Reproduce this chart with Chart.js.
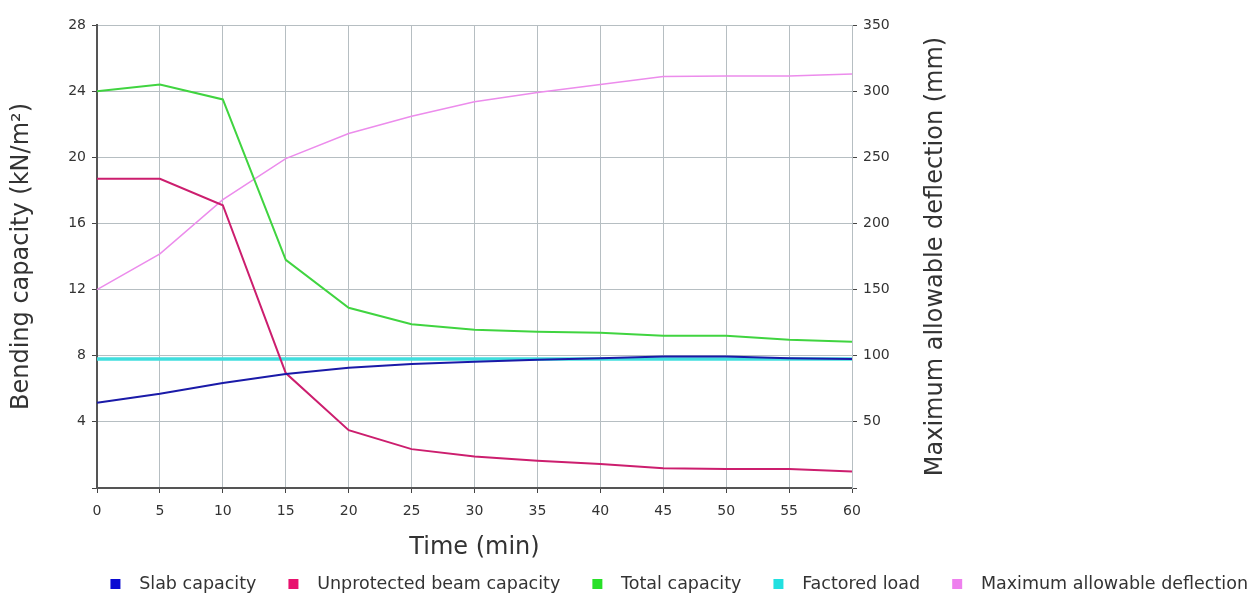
<!DOCTYPE html>
<html>
<head>
<meta charset="utf-8">
<script src="https://cdn.jsdelivr.net/npm/chart.js@4"></script>
<style>
  html, body { margin: 0; padding: 0; background: #fff; }
</style>
</head>
<body>
<canvas id="chart" width="1252" height="599"></canvas>
<script>
/* ── data ────────────────────────────────────────────────────── */
const times      = ['0', '5', '10', '15', '20', '25', '30', '35', '40', '45', '50', '55', '60'];
const slab       = [5.15, 5.7, 6.35, 6.9, 7.27, 7.5, 7.64, 7.75, 7.85, 7.95, 7.95, 7.85, 7.8];
const beam       = [18.7, 18.7, 17.1, 6.95, 3.5, 2.35, 1.9, 1.65, 1.45, 1.2, 1.15, 1.15, 1.0];
const total      = [24.0, 24.4, 23.5, 13.8, 10.9, 9.9, 9.57, 9.45, 9.39, 9.2, 9.2, 8.97, 8.85];
const factored   = [7.8, 7.8, 7.8, 7.8, 7.8, 7.8, 7.8, 7.8, 7.8, 7.8, 7.8, 7.8, 7.8];
const deflection = [150, 177, 218, 249, 268, 281, 292, 299, 305, 311, 311.5, 311.5, 313];

const X_TITLE  = 'Time (min)';
const Y_TITLE  = 'Bending capacity (kN/m²)';
const Y1_TITLE = 'Maximum allowable deflection (mm)';

/* ── look ────────────────────────────────────────────────────── */
const C = {
    text:  '#333333',
    grid:  '#b6bec2',
    axis:  '#555555',
    tick:  '#444444',
};
const PLOT_BOTTOM = 488;

Chart.defaults.font.family = "'DejaVu Sans', sans-serif";
Chart.defaults.color = C.text;

// legend swatch: small square with blank space either side
function swatch(color) {
    const c = document.createElement('canvas');
    c.width = 48; c.height = 10;
    const g = c.getContext('2d');
    g.fillStyle = color;
    g.fillRect(28, 0, 10, 10);
    return c;
}

function series(label, data, color, box, width, axis) {
    return {
        label, data,
        yAxisID: axis || 'y',
        borderColor: color,
        backgroundColor: color,
        borderWidth: width,
        pointRadius: 0,
        pointHoverRadius: 0,
        pointStyle: swatch(box),
        tension: 0,
        fill: false,
    };
}

const tickFont = { size: 14 };
const titleFont = { size: 24 };

/* right axis title reads bottom-to-top, drawn here */
const rightTitle = {
    id: 'rightTitle',
    afterDraw(chart) {
        const { ctx, chartArea } = chart;
        ctx.save();
        ctx.translate(chartArea.right + 84, (chartArea.top + chartArea.bottom) / 2);
        ctx.rotate(-Math.PI / 2);
        ctx.font = "24px 'DejaVu Sans', sans-serif";
        ctx.fillStyle = C.text;
        ctx.textAlign = 'center';
        ctx.textBaseline = 'middle';
        ctx.fillText(Y1_TITLE, 0, 0);
        ctx.restore();
    }
};

new Chart(document.getElementById('chart'), {
    type: 'line',
    data: {
        labels: times,
        datasets: [
            series('Slab capacity', slab, '#1a1aa8', '#0a0ad2', 2),
            series('Unprotected beam capacity', beam, '#cc1e6e', '#e8126e', 2),
            series('Total capacity', total, '#40d440', '#28e028', 2),
            series('Factored load', factored, '#40dede', '#22e0e0', 3.5),
            series('Maximum allowable deflection', deflection, '#ec8cec', '#ee80ee', 1.5, 'y1'),
        ]
    },
    options: {
        responsive: false,
        animation: false,
        layout: { padding: { top: 25, bottom: -4, left: 0, right: 0 } },
        plugins: {
            legend: {
                position: 'bottom',
                align: 'end',
                labels: {
                    usePointStyle: true,
                    pointStyleWidth: 48,
                    padding: 4,
                    color: C.text,
                    font: { size: 17.5 },
                }
            },
            tooltip: { enabled: false },
        },
        scales: {
            x: {
                grid: { color: C.grid, tickColor: C.tick, tickLength: 5 },
                border: { color: C.axis, width: 2 },
                ticks: { font: tickFont, padding: 10, maxRotation: 0, autoSkip: false },
                title: { display: true, text: X_TITLE, font: titleFont, color: C.text, padding: { top: 0, bottom: 9 } },
                afterFit: s => { s.height = s.chart.height + 4 - s.chart.legend.height - PLOT_BOTTOM; },
            },
            y: {
                position: 'left',
                min: 0, max: 28,
                grid: { color: C.grid, tickColor: C.tick, tickLength: 5 },
                border: { color: C.axis, width: 2 },
                ticks: { stepSize: 4, font: tickFont, padding: 6, callback: v => v === 0 ? '' : v },
                title: { display: true, text: Y_TITLE, font: titleFont, color: C.text, padding: { top: 7, bottom: 0 } },
                afterFit: s => { s.width = 97; },
            },
            y1: {
                position: 'right',
                min: 0, max: 350,
                grid: { drawOnChartArea: false, tickColor: C.tick, tickLength: 5 },
                border: { color: C.grid, width: 1 },
                ticks: { stepSize: 50, font: tickFont, padding: 6, callback: v => v === 0 ? '' : v },
                afterFit: s => { s.width = 400; },
            }
        }
    },
    plugins: [rightTitle]
});
</script>
</body>
</html>
